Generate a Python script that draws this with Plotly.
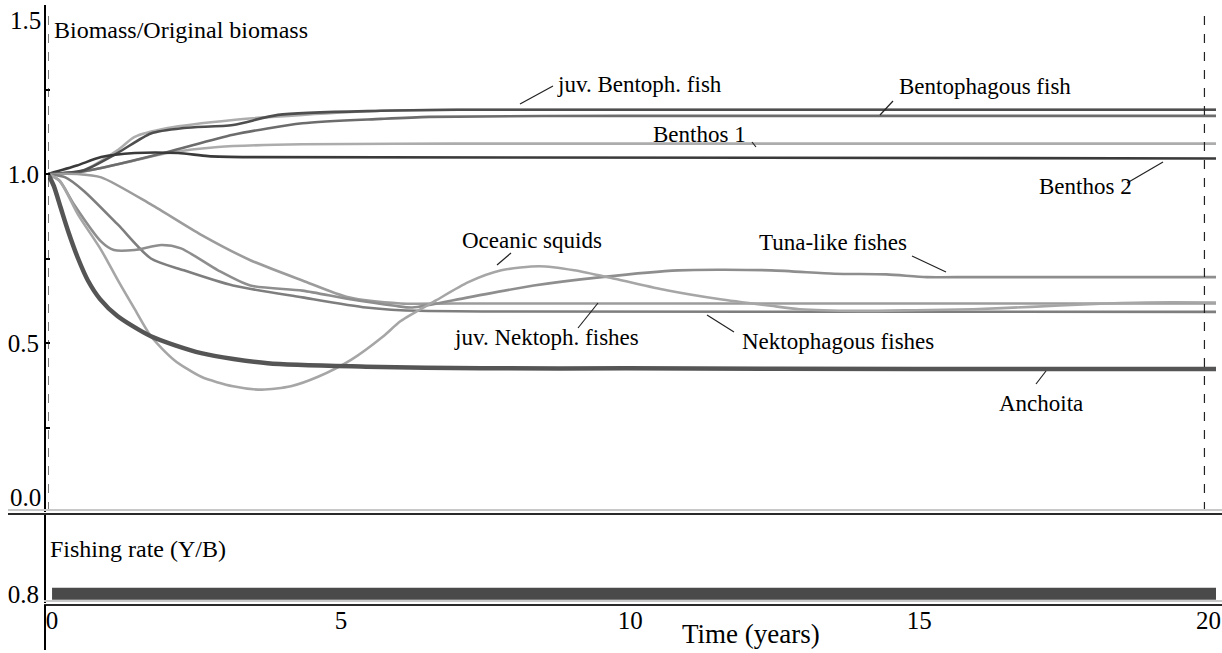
import plotly.graph_objects as go

W, H = 1222, 653
FONT = "Liberation Serif"

# ---------------- data ----------------
t_anch = [0, 0.1, 0.22, 0.35, 0.52, 0.69, 0.9, 1.2, 1.78, 2.65, 3.8, 5.5, 7.5, 10, 15, 20.2]
v_anch = [1.0, 0.965, 0.90, 0.83, 0.75, 0.685, 0.63, 0.58, 0.52, 0.47, 0.44, 0.43, 0.425, 0.425, 0.423, 0.423]

t_squid = [0, 0.2, 0.52, 0.92, 1.21, 1.5, 1.78, 2.18, 2.65, 3.2, 3.7, 4.2, 4.67, 5.24, 5.8, 6.1,
           6.7, 7.27, 7.84, 8.5, 9.1, 9.8, 10.7, 11.6, 12.5, 13.0, 14, 15, 16, 17, 18, 19, 20.2]
v_squid = [1.0, 0.98, 0.88, 0.775, 0.685, 0.60, 0.52, 0.45, 0.40, 0.372, 0.362, 0.372, 0.40, 0.45, 0.52, 0.565,
           0.625, 0.68, 0.715, 0.727, 0.715, 0.69, 0.656, 0.63, 0.61, 0.60, 0.595, 0.597, 0.60, 0.607, 0.615, 0.62, 0.62]

t_tuna = [0, 0.2, 0.45, 0.92, 1.14, 1.5, 1.96, 2.3, 2.94, 3.5, 4.4, 5.2, 6.0, 6.3, 7.27, 8.4, 9.57,
          10.9, 12.5, 13.6, 14.5, 15.2, 16, 20.2]
v_tuna = [1.0, 0.98, 0.91, 0.80, 0.775, 0.775, 0.79, 0.78, 0.715, 0.67, 0.655, 0.63, 0.61, 0.605, 0.635, 0.67, 0.695,
          0.715, 0.715, 0.705, 0.703, 0.695, 0.695, 0.695]

t_juvnek = [0, 0.5, 0.92, 1.78, 2.65, 3.5, 4.4, 5.2, 6.1, 7, 9, 12, 20.2]
v_juvnek = [1.0, 1.0, 0.99, 0.91, 0.82, 0.745, 0.685, 0.635, 0.617, 0.617, 0.617, 0.617, 0.617]

t_nek = [0, 0.3, 0.62, 1.21, 1.78, 2.35, 3.2, 4.4, 5.5, 6.1, 8, 20.2]
v_nek = [1.0, 0.99, 0.95, 0.85, 0.75, 0.715, 0.67, 0.635, 0.605, 0.597, 0.593, 0.592]

t_ben2 = [0, 0.5, 0.92, 1.5, 2.25, 2.77, 3.5, 20.2]
v_ben2 = [1.0, 1.025, 1.05, 1.062, 1.062, 1.053, 1.05, 1.046]

t_bentfish = [0, 0.5, 0.92, 2.07, 3.2, 4.4, 5.76, 6.6, 10, 20.2]
v_bentfish = [1.0, 1.005, 1.018, 1.065, 1.116, 1.15, 1.163, 1.169, 1.172, 1.172]

t_ben1 = [0, 0.5, 0.92, 1.5, 2.07, 2.94, 4.4, 7, 20.2]
v_ben1 = [1.0, 1.005, 1.018, 1.04, 1.062, 1.08, 1.088, 1.09, 1.09]

t_juvbent = [0, 0.6, 1.2, 1.78, 2.35, 3.2, 3.98, 5.76, 7.1, 20.2]
v_juvbent = [1.0, 1.01, 1.062, 1.12, 1.136, 1.145, 1.175, 1.187, 1.19, 1.19]

t_unlab = [0, 0.6, 1.2, 1.5, 2.07, 3.2, 4.4, 5.76, 7, 20.2]
v_unlab = [1.0, 1.01, 1.07, 1.11, 1.136, 1.16, 1.175, 1.187, 1.19, 1.19]

t_fish = [0.07, 20.2]
v_fish = [0.8, 0.8]

x_ticks = [0, 5, 10, 15, 20]
x_ticktext = ["0", "5", "10", "15", "20"]

# ---------------- helpers ----------------
def px(x):
    return x / W

def py(y):
    return 1 - y / H

fig = go.Figure()

series = [
    ("unlabelled", t_unlab, v_unlab, "#adadad", 2.6),
    ("Benthos 1", t_ben1, v_ben1, "#acacac", 2.6),
    ("Bentophagous fish", t_bentfish, v_bentfish, "#6c6c6c", 2.6),
    ("juv. Bentoph. fish", t_juvbent, v_juvbent, "#4e4e4e", 2.6),
    ("Benthos 2", t_ben2, v_ben2, "#3a3a3a", 2.6),
    ("juv. Nektoph. fishes", t_juvnek, v_juvnek, "#9c9c9c", 2.6),
    ("Nektophagous fishes", t_nek, v_nek, "#7e7e7e", 2.6),
    ("Tuna-like fishes", t_tuna, v_tuna, "#8e8e8e", 2.6),
    ("Oceanic squids", t_squid, v_squid, "#a6a6a6", 2.6),
    ("Anchoita", t_anch, v_anch, "#555555", 4.5),
]
for name, t, v, col, w in series:
    fig.add_trace(go.Scatter(x=t, y=v, mode="lines", name=name,
                             line=dict(color=col, width=w, shape="spline", smoothing=0.7),
                             xaxis="x", yaxis="y", showlegend=False, hoverinfo="skip"))

fig.add_trace(go.Scatter(x=t_fish, y=v_fish, mode="lines", name="Fishing rate",
                         line=dict(color="#4a4a4a", width=12),
                         xaxis="x2", yaxis="y2", showlegend=False, hoverinfo="skip"))

x_dom = [px(48), px(1216)]
axis_font = dict(family=FONT, size=25, color="black")

fig.update_layout(
    width=W, height=H,
    margin=dict(l=0, r=0, t=0, b=0, autoexpand=False),
    paper_bgcolor="white", plot_bgcolor="rgba(0,0,0,0)",
    xaxis=dict(domain=x_dom, range=[0, 20.2], anchor="y", showgrid=False, zeroline=False,
               showline=False, showticklabels=False, ticks="", automargin=False),
    yaxis=dict(domain=[py(512), py(5)], range=[0, 1.5], anchor="free", position=px(45),
               showgrid=False, zeroline=False, showline=True, linecolor="black", linewidth=2,
               tickvals=[0, 0.25, 0.5, 0.75, 1.0, 1.25, 1.5],
               ticktext=["", "", "0.5", "", "1.0", "", ""],
               ticks="inside", ticklen=4, tickwidth=2, tickcolor="black",
               tickfont=axis_font, automargin=False),
    xaxis2=dict(domain=x_dom, range=[0, 20.2], anchor="y2", matches="x", showgrid=False,
                zeroline=False, showline=False, tickvals=x_ticks, ticktext=x_ticktext,
                ticks="", tickfont=axis_font, ticklabelshift=4, ticklabeloverflow="allow",
                automargin=False),
    yaxis2=dict(domain=[py(603), py(514)], range=[0.72, 1.5], anchor="free", position=px(45),
                showgrid=False, zeroline=False, showline=True, linecolor="black", linewidth=2,
                tickvals=[0.8], ticktext=["0.8"], ticks="", tickfont=axis_font, automargin=False),
)

# reference (time marker) dashed lines
for tv in [0, 20]:
    fig.add_shape(type="line", xref="x", yref="paper", x0=tv, x1=tv, y0=py(511), y1=py(8),
                  line=dict(color="#222222", width=1.2, dash="dash"))

# panel separators
seps = [(510, 8, "#c8c8c8"), (514, 8, "#2a2a2a"), (601, 44, "#c8c8c8"), (605, 44, "#2a2a2a")]
for yy, x0, col in seps:
    fig.add_shape(type="line", xref="paper", yref="paper", x0=px(x0), x1=1, y0=py(yy), y1=py(yy),
                  line=dict(color=col, width=2))
fig.add_shape(type="line", xref="paper", yref="paper", x0=px(45), x1=px(45), y0=py(605), y1=py(650),
              line=dict(color="black", width=2))

# texts
texts = [
    ("Biomass/Original biomass", 52, 30, 24),
    ("juv. Bentoph. fish", 555, 85, 23),
    ("Bentophagous fish", 897, 86, 23),
    ("Benthos 1", 651, 134, 23),
    ("Benthos 2", 1037, 186, 23),
    ("Oceanic squids", 460, 241, 23),
    ("Tuna-like fishes", 757, 243, 23),
    ("juv. Nektoph. fishes", 452, 337, 23),
    ("Nektophagous fishes", 740, 341, 23),
    ("Anchoita", 997, 403, 23),
    ("Fishing rate (Y/B)", 48, 549, 24),
    ("Time (years)", 680, 634, 27),
    ("1.5", 8, 20, 25),
    ("0.0", 8, 497, 25),
]
for s, x, y, fs in texts:
    fig.add_annotation(text=s, xref="paper", yref="paper", x=px(x), y=py(y),
                       xanchor="left", yanchor="middle", showarrow=False,
                       font=dict(family=FONT, size=fs, color="black"))

# leader lines
leaders = [
    (520, 104, 553, 86), (880, 115, 893, 101), (752, 142, 756, 147), (1127, 183, 1163, 162),
    (497, 265, 511, 253), (912, 256, 946, 272), (578, 328, 598, 303), (707, 315, 734, 332),
    (1036, 384, 1046, 371),
]
for x0, y0, x1, y1 in leaders:
    fig.add_shape(type="line", xref="paper", yref="paper", x0=px(x0), y0=py(y0), x1=px(x1), y1=py(y1),
                  line=dict(color="#222222", width=1.2))

fig.write_html("out.html", config={"displayModeBar": False},
               post_script="document.body.style.margin='0px';document.body.style.overflow='hidden';")
